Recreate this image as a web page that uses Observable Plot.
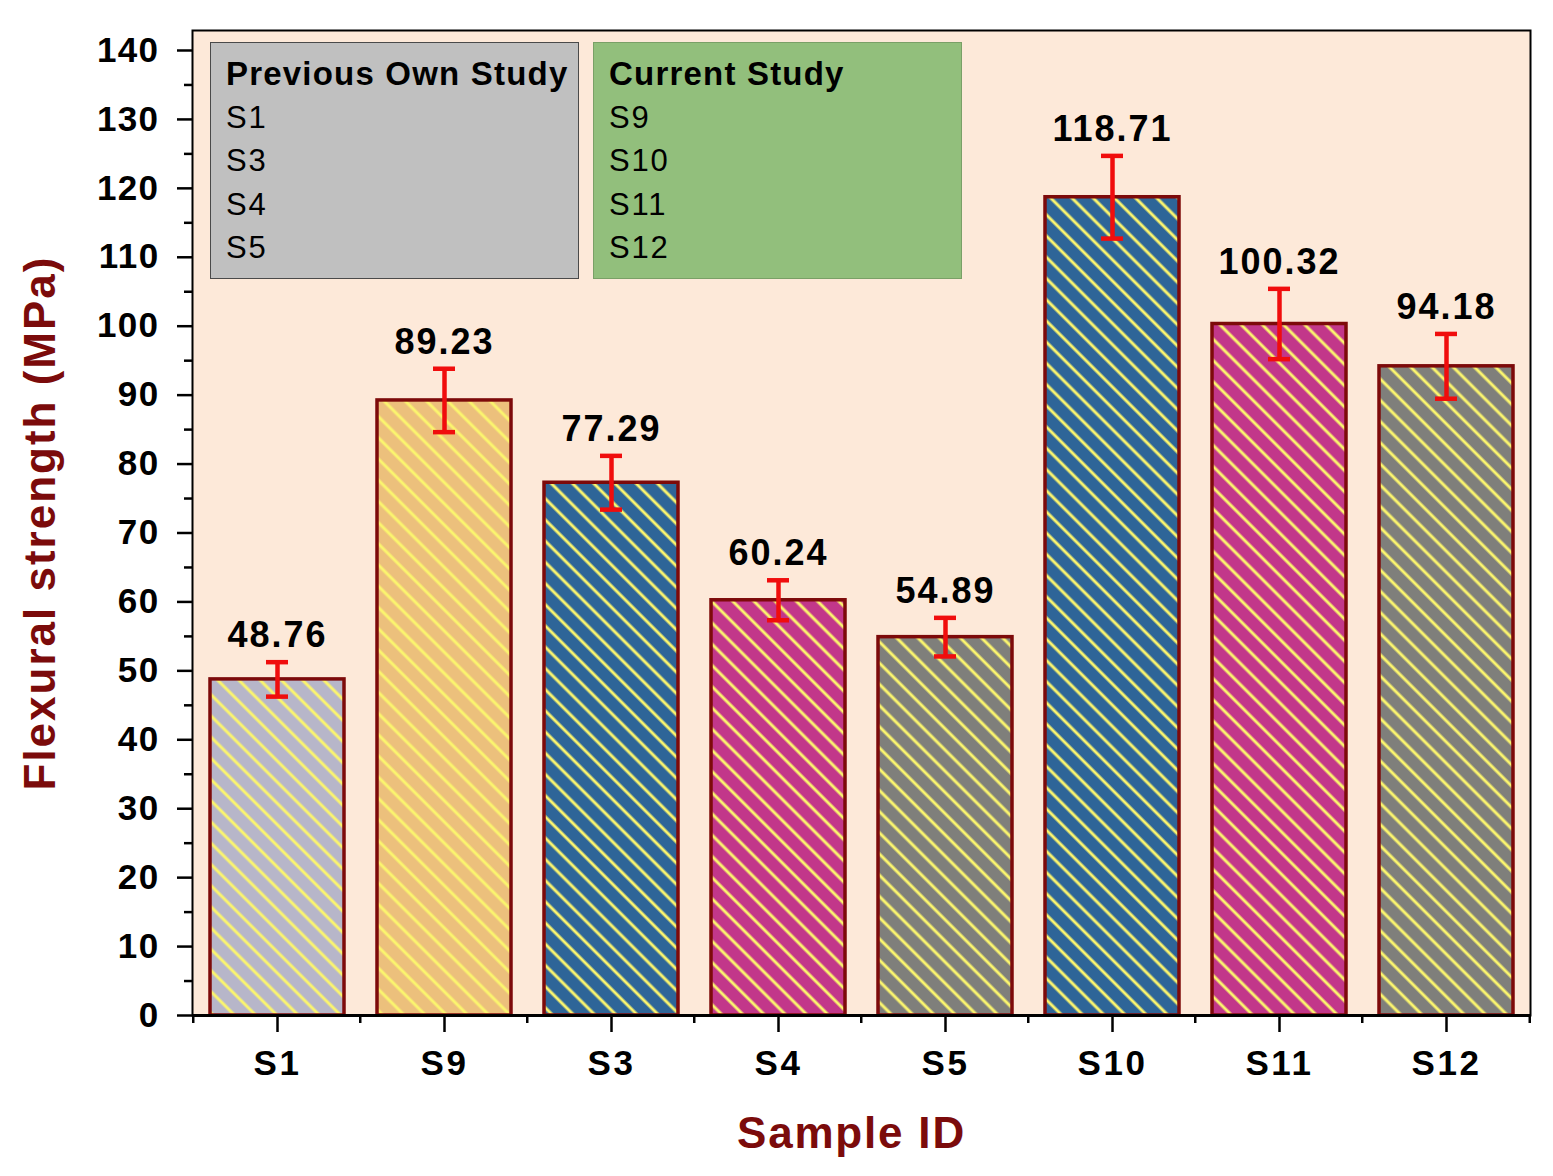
<!DOCTYPE html>
<html>
<head>
<meta charset="utf-8">
<script src="https://cdn.jsdelivr.net/npm/d3@7"></script>
<script src="https://cdn.jsdelivr.net/npm/@observablehq/plot@0.6"></script>
<style>
  html, body { margin: 0; padding: 0; background: #ffffff; }
  #wrap { position: relative; width: 1553px; height: 1176px; font-family: "Liberation Sans", Arial, sans-serif; }
  .lg { position: absolute; box-sizing: border-box; padding: 9px 0 0 15px; color: #000; white-space: nowrap; }
  .lg .t { font-weight: bold; font-size: 33px; line-height: 43.5px; letter-spacing: 1.2px; }
  .lg .i { font-size: 31px; line-height: 43.5px; letter-spacing: 1.8px; }
  g[aria-label="y-axis tick label"] text { letter-spacing: 1.4px; }
  g[aria-label="x-axis tick label"] text { letter-spacing: 2.6px; }
</style>
</head>
<body>
<div id="wrap"></div>
<script>
// ---- data ----
const samples = ["S1", "S9", "S3", "S4", "S5", "S10", "S11", "S12"];
const strength = [48.76, 89.23, 77.29, 60.24, 54.89, 118.71, 100.32, 94.18];
const errors = [2.5, 4.6, 3.9, 2.9, 2.8, 6.0, 5.1, 4.7];
const fills = ["#b7b6c9", "#ecc07c", "#2e6598", "#c2378a", "#7f7f7b", "#2e6598", "#c2378a", "#7f7f7b"];
const yMajor = d3.range(0, 141, 10);
const yMinor = d3.range(5, 141, 10);
const previousStudy = ["S1", "S3", "S4", "S5"];
const currentStudy = ["S9", "S10", "S11", "S12"];

const rows = samples.map((s, i) => ({ id: s, v: strength[i], e: errors[i], fill: fills[i] }));

const font = "'Liberation Sans', Arial, sans-serif";
const axisColor = "#000";

const chart = Plot.plot({
  width: 1553,
  height: 1176,
  marginLeft: 192,
  marginRight: 23,
  marginTop: 30,
  marginBottom: 161,
  style: { fontFamily: font, background: "transparent", overflow: "visible" },
  x: { domain: samples, paddingInner: 0.2, paddingOuter: 0.1, align: 0.5 },
  y: { domain: [0, 142.9] },
  color: { type: "identity" },
  marks: [
    Plot.frame({ fill: "#fde9d9", stroke: null }),
    Plot.barY(rows, { x: "id", y: "v", fill: "fill" }),
    Plot.barY(rows, { x: "id", y: "v", fill: "url(#hatch)", stroke: "#7d0a0a", strokeWidth: 3.5 }),
    Plot.ruleX(rows, { x: "id", y1: d => d.v - d.e, y2: d => d.v + d.e, stroke: "#f00d0d", strokeWidth: 4.5 }),
    Plot.tickY(rows, { x: "id", y: d => d.v + d.e, stroke: "#f00d0d", strokeWidth: 4.5, insetLeft: 56, insetRight: 56 }),
    Plot.tickY(rows, { x: "id", y: d => d.v - d.e, stroke: "#f00d0d", strokeWidth: 4.5, insetLeft: 56, insetRight: 56 }),
    Plot.text(rows, { x: "id", y: d => d.v + d.e, text: d => d.v.toFixed(2), dy: -15, lineAnchor: "bottom", fontSize: 36, fontWeight: "bold", fill: "#000" }),
    Plot.frame({ stroke: "#000", strokeWidth: 2 }),
    Plot.axisY(yMajor, { tickSize: 15, tickPadding: 18, fontSize: 35, fontWeight: "bold", strokeWidth: 2.5, color: axisColor, label: null }),
    Plot.axisY(yMinor, { tickSize: 8, strokeWidth: 2.5, color: axisColor, tickFormat: () => "", label: null }),
    Plot.axisX({ tickSize: 17, tickPadding: 18, fontSize: 35, fontWeight: "bold", strokeWidth: 2.5, color: axisColor, label: null }),
    Plot.ruleX([0], { frameAnchor: "left", stroke: "#000", strokeWidth: 3 }),
    Plot.ruleY([0], { stroke: "#000", strokeWidth: 3 }),
    Plot.text(["Flexural strength (MPa)"], { frameAnchor: "left", dx: -152, dy: 0, rotate: -90, fontSize: 44, fontWeight: "bold", fill: "#7b0b0b", textAnchor: "middle", lineAnchor: "middle" }),
    Plot.text(["Sample ID"], { frameAnchor: "bottom", dx: -10, dy: 118, fontSize: 44, fontWeight: "bold", fill: "#7b0b0b", textAnchor: "middle", lineAnchor: "middle" })
  ]
});

// letter spacing for the text marks (value labels, y title, x title)
const textGroups = chart.querySelectorAll('g[aria-label="text"]');
const spacing = ["2px", "2px", "1.8px"];
textGroups.forEach((gEl, i) => { gEl.style.letterSpacing = spacing[i] || "0px"; });

// hatch pattern definition
const svgNS = "http://www.w3.org/2000/svg";
const defs = document.createElementNS(svgNS, "defs");
defs.innerHTML = `<pattern id="hatch" patternUnits="userSpaceOnUse" width="15" height="15" patternTransform="rotate(-45)">
  <line x1="3" y1="-2" x2="3" y2="17" stroke="#fbf56e" stroke-width="3"/>
</pattern>`;
chart.insertBefore(defs, chart.firstChild);

// minor x ticks at band boundaries, from Plot's own x scale
const xs = chart.scale("x");
const yBase = chart.scale("y").apply(0);
const step = xs.bandwidth / (1 - 0.2);
const gap = (step - xs.bandwidth) / 2;
const bounds = samples.map(s => xs.apply(s) - gap);
bounds.push(xs.apply(samples[samples.length - 1]) + xs.bandwidth + gap);
const g = d3.select(chart).append("g").attr("stroke", "#000").attr("stroke-width", 2.5);
bounds.forEach(b => g.append("line").attr("x1", b).attr("x2", b).attr("y1", yBase).attr("y2", yBase + 8));

const wrap = document.getElementById("wrap");
wrap.appendChild(chart);

// legend boxes
function box(title, items, left, bg, border) {
  const d = document.createElement("div");
  d.className = "lg";
  d.style.left = left + "px";
  d.style.top = "42px";
  d.style.width = "369px";
  d.style.height = "237px";
  d.style.background = bg;
  d.style.border = "1.5px solid " + border;
  d.innerHTML = `<div class="t">${title}</div>` + items.map(s => `<div class="i">${s}</div>`).join("");
  wrap.appendChild(d);
}
box("Previous Own Study", previousStudy, 210, "#c0c0c0", "#4a4a4a");
box("Current Study", currentStudy, 593, "#92bf7c", "#7aa067");
chart.style.position = "absolute";
chart.style.left = "0";
chart.style.top = "0";
</script>
</body>
</html>
